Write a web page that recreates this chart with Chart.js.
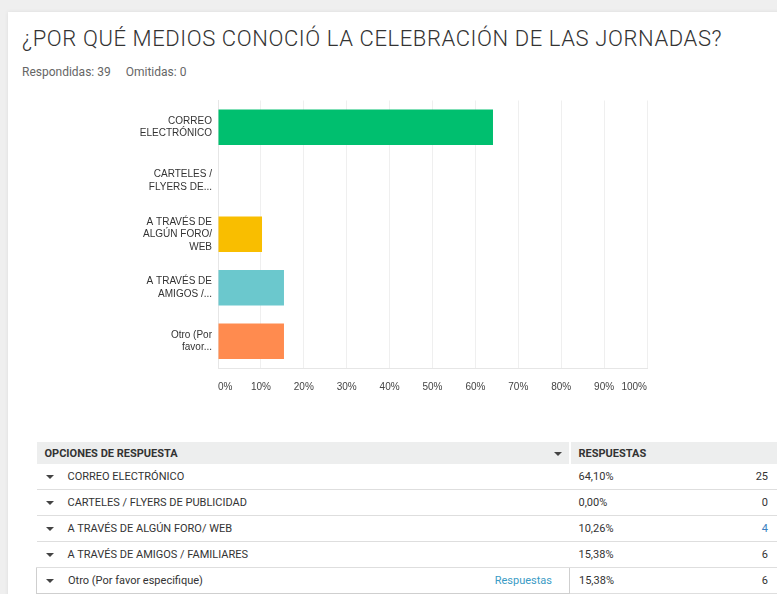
<!DOCTYPE html>
<html>
<head>
<meta charset="utf-8">
<script src="https://cdn.jsdelivr.net/npm/chart.js@4"></script>
<style>
  html, body { margin: 0; padding: 0; }
  body {
    width: 777px; height: 594px; overflow: hidden; position: relative;
    background: #efefef; font-family: Roboto, "Liberation Sans", sans-serif;
  }
  .card {
    position: absolute; left: 8px; top: 12px; width: 800px; height: 600px;
    background: #fff; box-shadow: 0 0 4px rgba(0,0,0,0.08);
  }
  h1 {
    position: absolute; left: 22px; top: 26px; margin: 0;
    font-weight: 300; font-size: 22px; letter-spacing: 0.6px; color: #333; white-space: nowrap;
  }
  .meta {
    position: absolute; left: 22px; top: 65px; font-size: 12px; color: #666;
  }
  .meta span + span { margin-left: 15px; }
  .chartBox { position: absolute; left: 110px; top: 82px; width: 550px; height: 324px; }
  table {
    position: absolute; left: 36px; top: 442px; width: 760px;
    border-collapse: collapse; font-size: 11px; color: #333;
  }
  th {
    background: #edeeee; height: 22px; text-align: left; font-weight: 700;
    padding: 0; position: relative;
  }
  td { height: 25px; padding: 0; border-bottom: 1px solid #dedede; position: relative; }
  .c1 { width: 532px; }
  th.c1 { padding-left: 8px; width: 524px; border-right: 2px solid #fff; }
  th.c2 { padding-left: 8px; }
  td.c1 { padding-left: 31px; width: 501px; }
  td.c2 { padding-left: 9px; width: 120px; }
  td.c3 { text-align: right; padding-right: 28px; }
  .tri {
    position: absolute; width: 0; height: 0;
    border-left: 4px solid transparent; border-right: 4px solid transparent; border-top: 4px solid #444;
  }
  td .tri { left: 9px; top: 11px; }
  th .tri { right: 7px; top: 10px; }
  tr.last td.c1 { border: 1px solid #cfcfcf; }
  .link { position: absolute; right: 17px; top: 6px; color: #3a9bc5; }
  .blue { color: #3b7fc0; }
</style>
</head>
<body>
<div class="card"></div>
<h1>¿POR QUÉ MEDIOS CONOCIÓ LA CELEBRACIÓN DE LAS JORNADAS?</h1>
<div class="meta"><span>Respondidas: 39</span><span>Omitidas: 0</span></div>
<div class="chartBox"><canvas id="chart"></canvas></div>
<table id="tbl"></table>
<script>
// etiquetas cortas del gráfico (tal como aparecen, recortadas)
const categories = [
  ['CORREO', 'ELECTRÓNICO'],
  ['CARTELES /', 'FLYERS DE...'],
  ['A TRAVÉS DE', 'ALGÚN FORO/', 'WEB'],
  ['A TRAVÉS DE', 'AMIGOS /...'],
  ['Otro (Por', 'favor...']
];
// nombres completos de la tabla
const optionNames = [
  'CORREO ELECTRÓNICO',
  'CARTELES / FLYERS DE PUBLICIDAD',
  'A TRAVÉS DE ALGÚN FORO/ WEB',
  'A TRAVÉS DE AMIGOS / FAMILIARES',
  'Otro (Por favor especifique)'
];
const percentages = [64.10, 0.00, 10.26, 15.38, 15.38];
const counts = [25, 0, 4, 6, 6];
const barColors = ['#00bf6f', '#507cb6', '#f9be00', '#6bc8cd', '#ff8b4f'];
const xTickValues = [0, 10, 20, 30, 40, 50, 60, 70, 80, 90, 100];

// tabla de respuestas
const tbl = document.getElementById('tbl');
let html = '<tr><th class="c1">OPCIONES DE RESPUESTA<span class="tri"></span></th>' +
  '<th class="c2" colspan="2">RESPUESTAS<span class="tri"></span></th></tr>';
optionNames.forEach(function (name, i) {
  const last = i === optionNames.length - 1;
  html += '<tr' + (last ? ' class="last"' : '') + '>' +
    '<td class="c1"><span class="tri"></span>' + name +
    (last ? '<span class="link">Respuestas</span>' : '') + '</td>' +
    '<td class="c2">' + percentages[i].toFixed(2).replace('.', ',') + '%</td>' +
    '<td class="c3' + (counts[i] === 4 ? ' blue' : '') + '">' + counts[i] + '</td></tr>';
});
tbl.innerHTML = html;

const ctx = document.getElementById('chart');
new Chart(ctx.getContext('2d'), {
  type: 'bar',
  data: {
    labels: categories,
    datasets: [{
      data: percentages,
      backgroundColor: barColors,
      borderWidth: 0,
      barPercentage: 0.66,
      categoryPercentage: 1
    }]
  },
  options: {
    indexAxis: 'y',
    responsive: true,
    maintainAspectRatio: false,
    animation: false,
    layout: { padding: 0 },
    plugins: { legend: { display: false }, tooltip: { enabled: false } },
    scales: {
      x: {
        min: 0, max: 100,
        afterBuildTicks: function (axis) {
          axis.ticks = xTickValues.map(function (v) { return { value: v }; });
        },
        grid: { color: '#efefef', drawTicks: false },
        border: { display: true, color: '#e6e6e6' },
        ticks: {
          align: 'inner',
          padding: 13,
          color: '#444',
          font: { family: '"Liberation Sans", Arial, sans-serif', size: 10 },
          callback: function (v) { return v + '%'; }
        }
      },
      y: {
        afterFit: function (axis) { axis.width = 108; },
        grid: { display: false, drawTicks: false },
        border: { display: true, color: '#e6e6e6' },
        ticks: {
          padding: 6,
          color: '#333',
          font: { family: '"Liberation Sans", Arial, sans-serif', size: 10, lineHeight: 1.25 }
        }
      }
    }
  }
});
</script>
</body>
</html>
